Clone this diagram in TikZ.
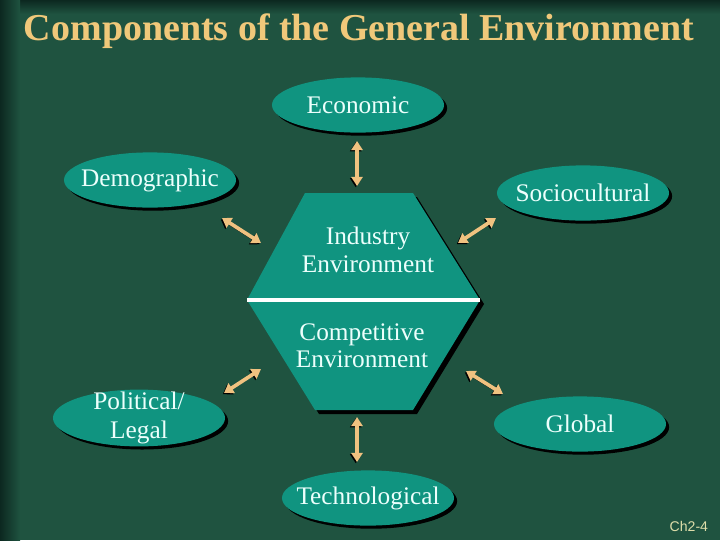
\documentclass[tikz,border=0pt]{standalone}
\usepackage{fontspec}
\setmainfont{Liberation Serif}
\newfontfamily\tagsans{Liberation Sans}
\usepackage{xcolor}
\usetikzlibrary{arrows.meta,shapes.geometric,shadows}
\definecolor{bggreen}{RGB}{31,83,64}
\definecolor{edgegreen}{RGB}{12,40,32}
\definecolor{tealfill}{RGB}{16,148,128}
\definecolor{titlegold}{RGB}{240,200,122}
\definecolor{armtan}{RGB}{240,194,128}
\definecolor{pagetag}{RGB}{222,222,170}
\definecolor{paletext}{RGB}{236,255,252}

\begin{document}
\begin{tikzpicture}[x=0.025cm,y=-0.025cm,
  oval/.style={ellipse, fill=tealfill, minimum width=4.3cm, minimum height=1.38cm, inner sep=0pt,
    drop shadow={shadow xshift=2.2pt, shadow yshift=-2.2pt, fill=black, opacity=1}},
  ovaltext/.style={text=paletext, align=center, font=\fontsize{18}{20}\selectfont},
  hextext/.style={text=paletext, align=center, font=\fontsize{18}{19.5}\selectfont},
  link/.style={{Triangle[width=8pt,length=6.5pt]}-{Triangle[width=8pt,length=6.5pt]},
    line width=2.6pt, draw=armtan,
    preaction={draw=black, transform canvas={shift={(-0.9pt,-0.9pt)}}}}]

% background
\useasboundingbox (0,0) rectangle (720,540);
\fill[bggreen] (0,0) rectangle (720,540);
\shade[top color=edgegreen, bottom color=bggreen] (0,0) rectangle (720,14);
\shade[left color=edgegreen, right color=bggreen] (0,0) rectangle (20,540);

\node[anchor=base, text=titlegold, font=\fontsize{27}{30}\selectfont\bfseries] (title) at (359,40)
  {Components of the General Environment};

% hexagon
\fill[black, shift={(4,4)}] (305,193) -- (413,193) -- (480,300) -- (413,410) -- (315,410) -- (247,300) -- cycle;
\fill[tealfill] (305,193) -- (413,193) -- (480,300) -- (413,410) -- (315,410) -- (247,300) -- cycle;
\coordinate (hexL) at (247,300);
\coordinate (hexR) at (480,300);
\draw[white, line width=2.2pt] (hexL) -- (hexR);
\node[hextext] (industry) at (368,250) {Industry\\Environment};
\node[hextext] (competitive) at (362,346) {Competitive\\Environment};

% general environment
\node[oval] (econ) at (358,105) {};
\node[oval] (demo) at (150,180) {};
\node[oval] (socio) at (583,193) {};
\node[oval, minimum height=1.42cm] (polit) at (139,418) {};
\node[oval] (global) at (580,424) {};
\node[oval] (tech) at (368,498) {};
\node[ovaltext] at (econ) {Economic};
\node[ovaltext] at (demo) {Demographic};
\node[ovaltext] at (socio) {Sociocultural};
\node[ovaltext] at (polit) {Political/\\Legal};
\node[ovaltext] at (global) {Global};
\node[ovaltext] at (tech) {Technological};

\coordinate (econA) at (357,141);  \coordinate (econB) at (357,186);
\coordinate (demoA) at (222,218);  \coordinate (demoB) at (261,243);
\coordinate (socioA) at (496,218); \coordinate (socioB) at (458,243);
\coordinate (politA) at (224,393); \coordinate (politB) at (261,369);
\coordinate (globA) at (503,394);  \coordinate (globB) at (466,371);
\coordinate (techA) at (357,462);  \coordinate (techB) at (357,417);

\draw[link] (econA) -- (econB);
\draw[link] (demoA) -- (demoB);
\draw[link] (socioA) -- (socioB);
\draw[link] (politA) -- (politB);
\draw[link] (globA) -- (globB);
\draw[link] (techA) -- (techB);

\node[anchor=base east, text=pagetag, font=\tagsans\fontsize{10}{12}\selectfont] (tag) at (713,531) {Ch2-4};
\end{tikzpicture}
\end{document}
